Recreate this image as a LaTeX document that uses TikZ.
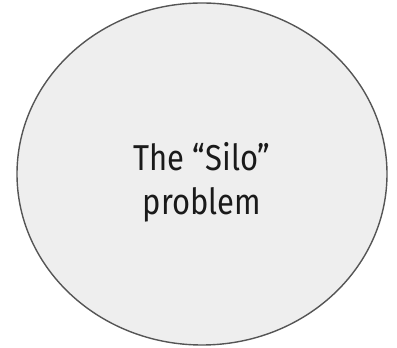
\documentclass[tikz,border=0pt]{standalone}
\usepackage{fontspec}
\setmainfont[FakeStretch=0.86]{Fira Sans}
\usetikzlibrary{shapes.geometric}
\definecolor{ink}{HTML}{1A1A1A}
\definecolor{rimGray}{HTML}{555555}
\definecolor{siloFill}{HTML}{EEEEEE}
\tikzset{
  topic/.style={ellipse,draw=rimGray,line width=1.4pt,fill=siloFill,
    minimum width=370pt,minimum height=342pt,inner sep=0pt},
  caption/.style={text=ink,align=center,font=\fontsize{36}{44}\selectfont}
}
\begin{document}
\begin{tikzpicture}[x=1pt,y=1pt]
  \path[use as bounding box] (0,0) rectangle (397,348);
  \node[topic] (silo) at (202,174) {};
  \node[caption] (siloText) at ([yshift=-8pt]silo.center) {The “Silo”\\problem};
\end{tikzpicture}
\end{document}
